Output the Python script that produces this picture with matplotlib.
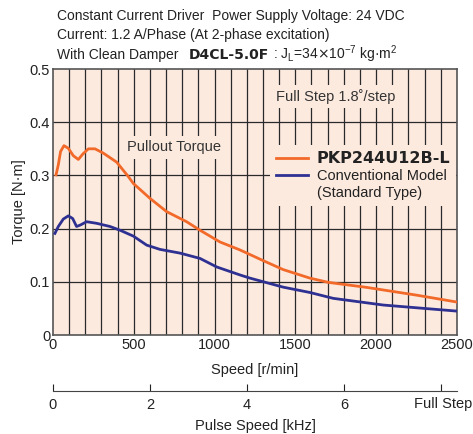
import matplotlib.pyplot as plt
from matplotlib.lines import Line2D

# pullout torque curves, speed in r/min, torque in N·m
new_speed = [19, 33, 47, 68, 95, 126, 157, 184, 219, 260, 311, 394, 466,
             497, 600, 703, 827, 910, 1033, 1157, 1300, 1425, 1590, 1704,
             1941, 2250, 2500]
new_torque = [0.301, 0.320, 0.345, 0.356, 0.351, 0.337, 0.330, 0.340, 0.350,
              0.350, 0.342, 0.325, 0.298, 0.285, 0.257, 0.232, 0.213, 0.197,
              0.175, 0.160, 0.140, 0.123, 0.107, 0.099, 0.0896, 0.075, 0.062]

old_speed = [12, 33, 64, 95, 122, 146, 171, 208, 270, 353, 415, 497, 580,
             662, 786, 910, 1013, 1157, 1219, 1425, 1590, 1734, 2044, 2300,
             2500]
old_torque = [0.191, 0.204, 0.218, 0.224, 0.219, 0.204, 0.207, 0.213, 0.210,
              0.204, 0.197, 0.186, 0.169, 0.161, 0.154, 0.144, 0.128, 0.113,
              0.107, 0.090, 0.080, 0.069, 0.0564, 0.050, 0.045]

speed_ticks = [0, 500, 1000, 1500, 2000, 2500]
torque_ticks = [0, 0.1, 0.2, 0.3, 0.4, 0.5]
torque_labels = ['0', '0.1', '0.2', '0.3', '0.4', '0.5']
pulse_ticks = [0, 2, 4, 6, 8]
pulse_labels = ['0', '2', '4', '6', '']

plt.rcParams['font.family'] = ['Liberation Sans Narrow', 'Liberation Sans', 'DejaVu Sans']

bg = '#fdeadf'
orange = '#f26a2a'
blue = '#2e3192'
grid_c = '#2a2a2a'
ink = '#222222'

fig = plt.figure(figsize=(4.73, 4.34), dpi=100)
ax = fig.add_axes([0.112, 0.228, 0.854, 0.613])
ax.set_facecolor(bg)
ax.set_xlim(0, 2500)
ax.set_ylim(0, 0.5)

# grid
for x in range(100, 2500, 100):
    ax.axvline(x, color=grid_c, lw=0.9, zorder=1)
for y in torque_ticks[1:-1]:
    ax.axhline(y, color=grid_c, lw=0.9, zorder=1)

ax.plot(new_speed, new_torque, color=orange, lw=2, zorder=5)
ax.plot(old_speed, old_torque, color=blue, lw=2, zorder=5)

for s in ax.spines.values():
    s.set_color('#555555')
    s.set_linewidth(1.2)
ax.set_xticks(speed_ticks)
ax.set_yticks(torque_ticks)
ax.set_yticklabels(torque_labels)
ax.tick_params(length=0, labelsize=10.5, pad=2, colors=ink)
ax.set_xlabel('Speed [r/min]', fontsize=10.5, labelpad=8, color=ink)
ax.set_ylabel('Torque [N·m]', fontsize=10.5, labelpad=3, color=ink)

box = dict(facecolor=bg, edgecolor='none', pad=3)
ax.text(0.183, 0.69, 'Pullout Torque', transform=ax.transAxes, fontsize=10.5,
        color='#333333', bbox=box, zorder=3)
ax.text(0.552, 0.88, 'Full Step 1.8˚/step', transform=ax.transAxes,
        fontsize=10.5, color='#333333', bbox=box, zorder=3)

handles = [Line2D([], [], color=orange, lw=2),
           Line2D([], [], color=blue, lw=2),
           Line2D([], [], color='none')]
leg = ax.legend(handles, ['PKP244U12B-L', 'Conventional Model', '(Standard Type)'],
                loc='upper left', bbox_to_anchor=(0.52, 0.74), frameon=True,
                fontsize=10.5, handlelength=2.2, handletextpad=0.6,
                labelspacing=0.2, borderpad=0.4)
leg.get_frame().set_facecolor(bg)
leg.get_frame().set_edgecolor('none')
leg.get_frame().set_alpha(1)
leg.set_zorder(3)
txt = leg.get_texts()
txt[0].set_family('DejaVu Sans')
txt[0].set_fontweight('bold')
txt[0].set_fontsize(11.5)
for t in txt:
    t.set_color(ink)

# pulse speed axis
ax2 = fig.add_axes([0.112, 0.099, 0.854, 0.0001])
ax2.set_xlim(0, 2500 / 60 * 200 / 1000)
ax2.set_yticks([])
for k in ['top', 'left', 'right']:
    ax2.spines[k].set_visible(False)
ax2.spines['bottom'].set_color('#444444')
ax2.set_xticks(pulse_ticks)
ax2.set_xticklabels(pulse_labels)
ax2.tick_params(axis='x', direction='in', length=5, labelsize=10.5, pad=5,
                colors=ink)
ax2.set_xlabel('Pulse Speed [kHz]', fontsize=10.5, labelpad=5, color=ink)
fig.text(0.998, 0.085, 'Full Step', ha='right', va='top', fontsize=10.5,
         color=ink)

# header
fig.text(0.12, 0.955, 'Constant Current Driver  Power Supply Voltage: 24 VDC',
         fontsize=10, color=ink)
fig.text(0.12, 0.91, 'Current: 1.2 A/Phase (At 2-phase excitation)',
         fontsize=10, color=ink)
fig.text(0.12, 0.865, 'With Clean Damper', fontsize=10, color=ink)
fig.text(0.400, 0.865, 'D4CL-5.0F', fontsize=10, fontweight='bold',
         family='DejaVu Sans', color=ink)
fig.text(0.578, 0.865, ': J$_{\\mathregular{L}}$=34$\\times$10$^{\\mathregular{-7}}$ kg·m$^{\\mathregular{2}}$',
         fontsize=10, color=ink)

fig.savefig('out.png', dpi=100)
